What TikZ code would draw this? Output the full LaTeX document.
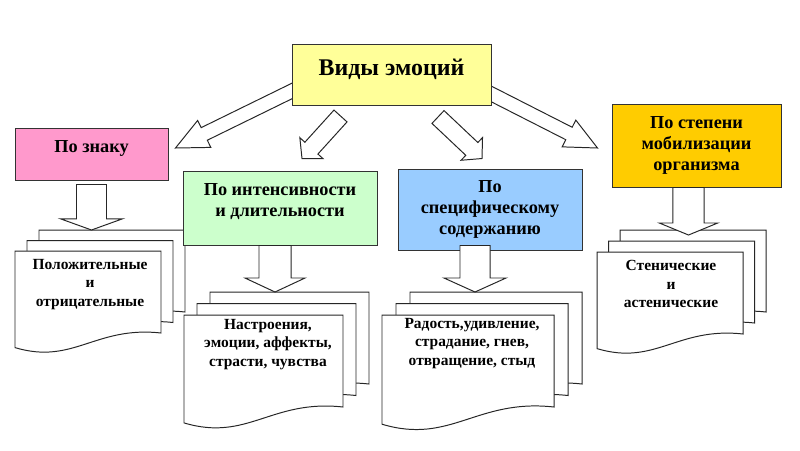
\documentclass[tikz,border=0pt]{standalone}
\usepackage{fontspec}
\setmainfont{LiberationSerif}[Extension=.ttf, UprightFont=*-Regular, BoldFont=*-Bold,
    ItalicFont=*-Italic, BoldItalicFont=*-BoldItalic]
\usetikzlibrary{calc, backgrounds}

\definecolor{titlefill}{HTML}{FFFF99}
\definecolor{signfill}{HTML}{FF99CC}
\definecolor{intfill}{HTML}{CCFFCC}
\definecolor{contfill}{HTML}{99CCFF}
\definecolor{mobfill}{HTML}{FFCC00}

% hollow block arrow: tail, tip, half shaft, half head, head length
\newcommand{\blockarrow}[5]{%
    \coordinate (ba-s) at (#1);
    \coordinate (ba-e) at (#2);
    \coordinate (ba-b) at ($(ba-e)!#5!(ba-s)$);
    \filldraw[outline]
        ($(ba-s)!#3!90:(ba-e)$) -- ($(ba-b)!#3!90:(ba-e)$) -- ($(ba-b)!#4!90:(ba-e)$)
        -- (ba-e) -- ($(ba-b)!#4!-90:(ba-e)$) -- ($(ba-b)!#3!-90:(ba-e)$)
        -- ($(ba-s)!#3!-90:(ba-e)$) -- cycle;
}
% one page with a wavy bottom, top left at (#1,#2)
\newcommand{\docpage}[4]{%
    \filldraw[outline]
        (#1,#2) -- ({#1+#3},#2) -- ({#1+#3},{#2+#4})
        .. controls ({#1+0.55*#3},{#2+#4-0.05*#3}) and ({#1+0.4*#3},{#2+#4+0.22*#3})
        .. (#1,{#2+#4+0.1*#3}) -- cycle;
}
% three pages; #1 names the top left of the back page
\newcommand{\docstack}[7]{%
    \docpage{#2+2*#6}{#3-2*#7}{#4}{#5}
    \docpage{#2+#6}{#3-#7}{#4}{#5}
    \docpage{#2}{#3}{#4}{#5}
    \coordinate (#1) at ({#2+2*#6},{#3-2*#7});
}

\begin{document}
\begin{tikzpicture}[
        x=0.025cm, y=-0.025cm,
        outline/.style={fill=white, draw=black!85, line width=0.7pt, line join=miter},
        box/.style={draw=black!80, line width=0.7pt, align=center, inner sep=2pt,
            font=\fontsize{13}{15}\selectfont\bfseries},
        doctext/.style={align=center, anchor=north, inner sep=0pt,
            font=\fontsize{11}{13.2}\selectfont\bfseries}
    ]
        \useasboundingbox (0,0) rectangle (800,450);

        % pages first, the boxes lie over them
        \docstack{sigtop}{15}{251}{146}{82}{12}{10.5}
        \docstack{inttop}{184}{315}{159}{92}{13}{11.5}
        \docstack{conttop}{382}{315}{172}{92}{14}{11.5}
        \docstack{mobtop}{597}{252}{146}{82}{11.5}{11}

        \node[doctext] (sigtext) at (90,259) {Положительные\\и\\отрицательные};
        \node[doctext] (inttext) at (268,319) {Настроения,\\эмоции, аффекты,\\страсти, чувства};
        \node[doctext] (conttext) at (472,318) {Радость,удивление,\\страдание, гнев,\\отвращение, стыд};
        \node[doctext] (mobtext) at (671,260) {Стенические\\и\\астенические};

        \node[box, fill=titlefill, minimum width={199*0.025cm}, minimum height={61*0.025cm},
            font=\fontsize{17}{20}\selectfont\bfseries, text height=11.5pt, text depth=10.5pt]
            (main) at (391.5,74.5) {Виды эмоций};
        \node[box, fill=signfill, minimum width={153*0.025cm}, minimum height={52*0.025cm},
            text height=9pt, text depth=10.5pt] (sign) at (91.5,154) {По знаку};
        \node[box, fill=intfill, minimum width={194*0.025cm}, minimum height={74*0.025cm},
            text depth=11pt] (intens) at (280,208) {По интенсивности\\и длительности};
        \node[box, fill=contfill, minimum width={184*0.025cm}, minimum height={81*0.025cm}]
            (content) at (490,209.5) {По\\специфическому\\содержанию};
        \node[box, fill=mobfill, minimum width={169*0.025cm}, minimum height={83*0.025cm}]
            (mobil) at (696.5,145.5) {По степени\\мобилизации\\организма};

        \begin{pgfonlayer}{background}
            \blockarrow{$(main.west)+(5.5,14)$}{$(sign.east)+(7,-6)$}{0.175cm}{0.375cm}{0.8cm}
            \blockarrow{$(main.south)+(-51,10.5)$}{$(intens.north)+(22,-12)$}{0.22cm}{0.39cm}{0.35cm}
            \blockarrow{$(main.south)+(46.5,11.5)$}{$(content.north)+(-8,-10)$}{0.22cm}{0.39cm}{0.35cm}
            \blockarrow{$(main.east)+(-4,17.5)$}{$(mobil.west)+(-14,2.5)$}{0.175cm}{0.375cm}{0.8cm}
        \end{pgfonlayer}

        \blockarrow{$(sign.south)+(0,4)$}{sign.south |- sigtop}{0.375cm}{0.775cm}{0.28cm}
        \blockarrow{$(intens.south)+(-5,0)$}{$(intens.south |- inttop)+(-5,0)$}{0.4cm}{0.75cm}{0.35cm}
        \blockarrow{$(content.south)+(-15,-5)$}{$(content.south |- conttop)+(-15,0)$}{0.375cm}{0.775cm}{0.35cm}
        \blockarrow{$(mobil.south)+(-8,0)$}{$(mobil.south |- mobtop)+(-8,5)$}{0.39cm}{0.73cm}{0.3cm}
\end{tikzpicture}
\end{document}
